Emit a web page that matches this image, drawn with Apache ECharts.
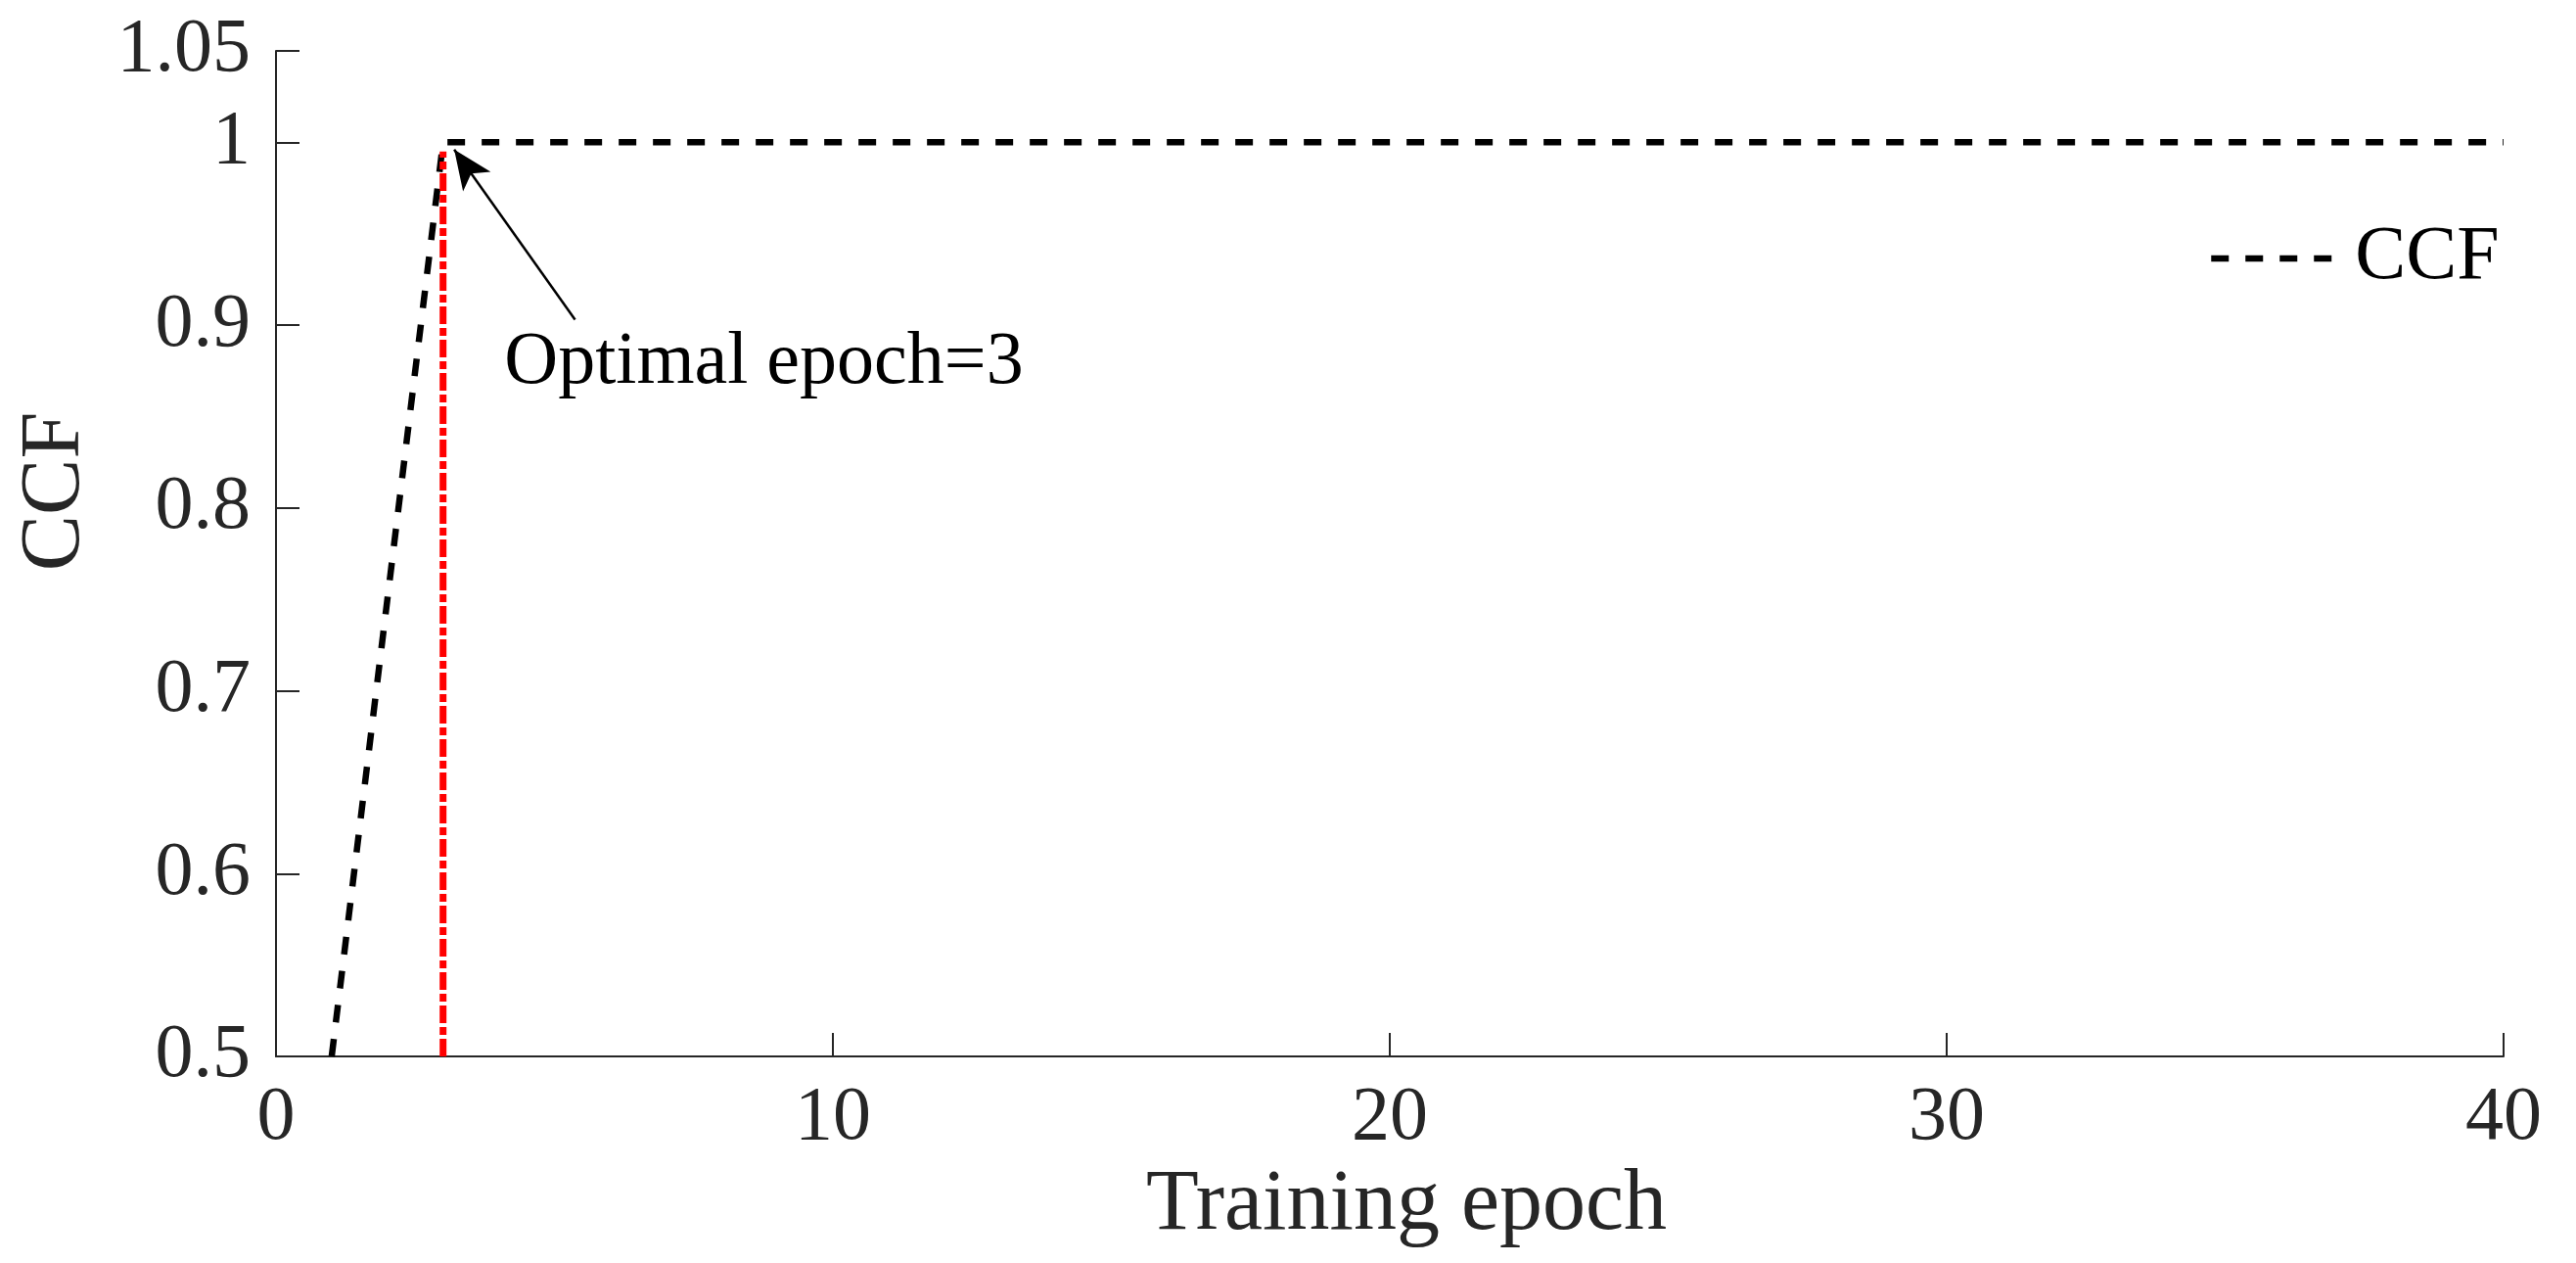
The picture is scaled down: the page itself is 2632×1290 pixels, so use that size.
<!DOCTYPE html>
<html>
<head>
<meta charset="utf-8">
<script src="https://cdn.jsdelivr.net/npm/echarts@6/dist/echarts.min.js"></script>
<style>
html,body{margin:0;padding:0;background:#ffffff;}
#chart{width:2632px;height:1290px;}
</style>
</head>
<body>
<div id="chart"></div>
<script>
// ---- data ----
const epochs = [1,2,3,4,5,6,7,8,9,10,11,12,13,14,15,16,17,18,19,20,21,22,23,24,25,26,27,28,29,30,31,32,33,34,35,36,37,38,39,40];
const ccf    = [0.5,0.75,1,1,1,1,1,1,1,1,1,1,1,1,1,1,1,1,1,1,1,1,1,1,1,1,1,1,1,1,1,1,1,1,1,1,1,1,1,1];
const xTicks = [0,10,20,30,40];
const yTicks = [0.5,0.6,0.7,0.8,0.9,1,1.05];
const optimalEpoch = 3;
const optimalLineRange = [0.5, 0.995];
const annotationText = 'Optimal epoch=3';
const arrowTail = [5.37, 0.903];
const arrowHead = [3.2, 0.996];
const annotationAnchor = [4.1, 0.879];

const FONT = '"Liberation Serif", "Times New Roman", serif';
const AX = '#262626';

const chart = echarts.init(document.getElementById('chart'), null, {renderer:'canvas'});

const option = {
  animation: false,
  backgroundColor: '#ffffff',
  grid: {left: 282, right: 74, top: 52, bottom: 211, containLabel: false},
  legend: {
    data: ['CCF'],
    left: 2256, top: 224,
    padding: 0,
    itemWidth: 123, itemHeight: 14,
    itemStyle: {opacity: 0, borderWidth: 0},
    lineStyle: {width: 6.5, type: [18,17], color: '#000000'},
    textStyle: {fontFamily: FONT, fontSize: 78, color: '#000000', lineHeight: 80, padding: [0,0,0,19]}
  },
  xAxis: {
    type: 'value', min: 0, max: 40, interval: 10,
    name: 'Training epoch', nameLocation: 'middle', nameGap: 92,
    nameTextStyle: {fontFamily: FONT, fontSize: 88, color: AX, lineHeight: 88, padding: [0,0,0,34]},
    axisLine: {show: true, lineStyle: {color: AX, width: 2}},
    axisTick: {show: true, inside: true, length: 24, lineStyle: {color: AX, width: 2}, customValues: xTicks},
    axisLabel: {fontFamily: FONT, fontSize: 78, color: AX, margin: 24, lineHeight: 80, customValues: xTicks,
                formatter: v => String(v)},
    splitLine: {show: false}
  },
  yAxis: {
    type: 'value', min: 0.5, max: 1.05,
    axisLine: {show: true, lineStyle: {color: AX, width: 2}},
    axisTick: {show: true, inside: true, length: 24, lineStyle: {color: AX, width: 2}, customValues: yTicks},
    axisLabel: {fontFamily: FONT, fontSize: 78, color: AX, margin: 26, customValues: yTicks,
                formatter: v => String(v)},
    splitLine: {show: false}
  },
  graphic: [{
    type: 'text', x: 57, y: 502, rotation: Math.PI / 2,
    style: {text: 'CCF', fontFamily: FONT, fontSize: 86, fill: AX, align: 'center', verticalAlign: 'middle'}
  }],
  series: [
    {
      name: 'CCF', type: 'line',
      data: epochs.map((e, i) => [e, ccf[i]]),
      symbol: 'none', symbolSize: 0, showSymbol: false,
      lineStyle: {color: '#000000', width: 6.5, type: [18,17]},
      itemStyle: {color: '#000000'},
      z: 3, silent: true
    },
    {
      name: 'Optimal', type: 'line',
      data: [[optimalEpoch, optimalLineRange[0]], [optimalEpoch, optimalLineRange[1]]],
      symbol: 'none', showSymbol: false,
      lineStyle: {color: '#ff0000', width: 7, type: [18,4,8,4]},
      itemStyle: {color: '#ff0000'},
      z: 4, silent: true,
      markLine: {
        silent: true, animation: false,
        symbol: ['none', 'arrow'], symbolSize: [26, 40],
        lineStyle: {color: '#000000', width: 2.5, type: 'solid'},
        label: {show: false},
        data: [[{coord: arrowTail}, {coord: arrowHead}]]
      },
      markPoint: {
        silent: true, animation: false,
        symbol: 'circle', symbolSize: 0,
        itemStyle: {color: 'rgba(0,0,0,0)'},
        label: {show: true, position: 'right', distance: 0, formatter: annotationText,
                fontFamily: FONT, fontSize: 76, color: '#000000'},
        data: [{coord: annotationAnchor}]
      }
    }
  ]
};
chart.setOption(option);
</script>
</body>
</html>
